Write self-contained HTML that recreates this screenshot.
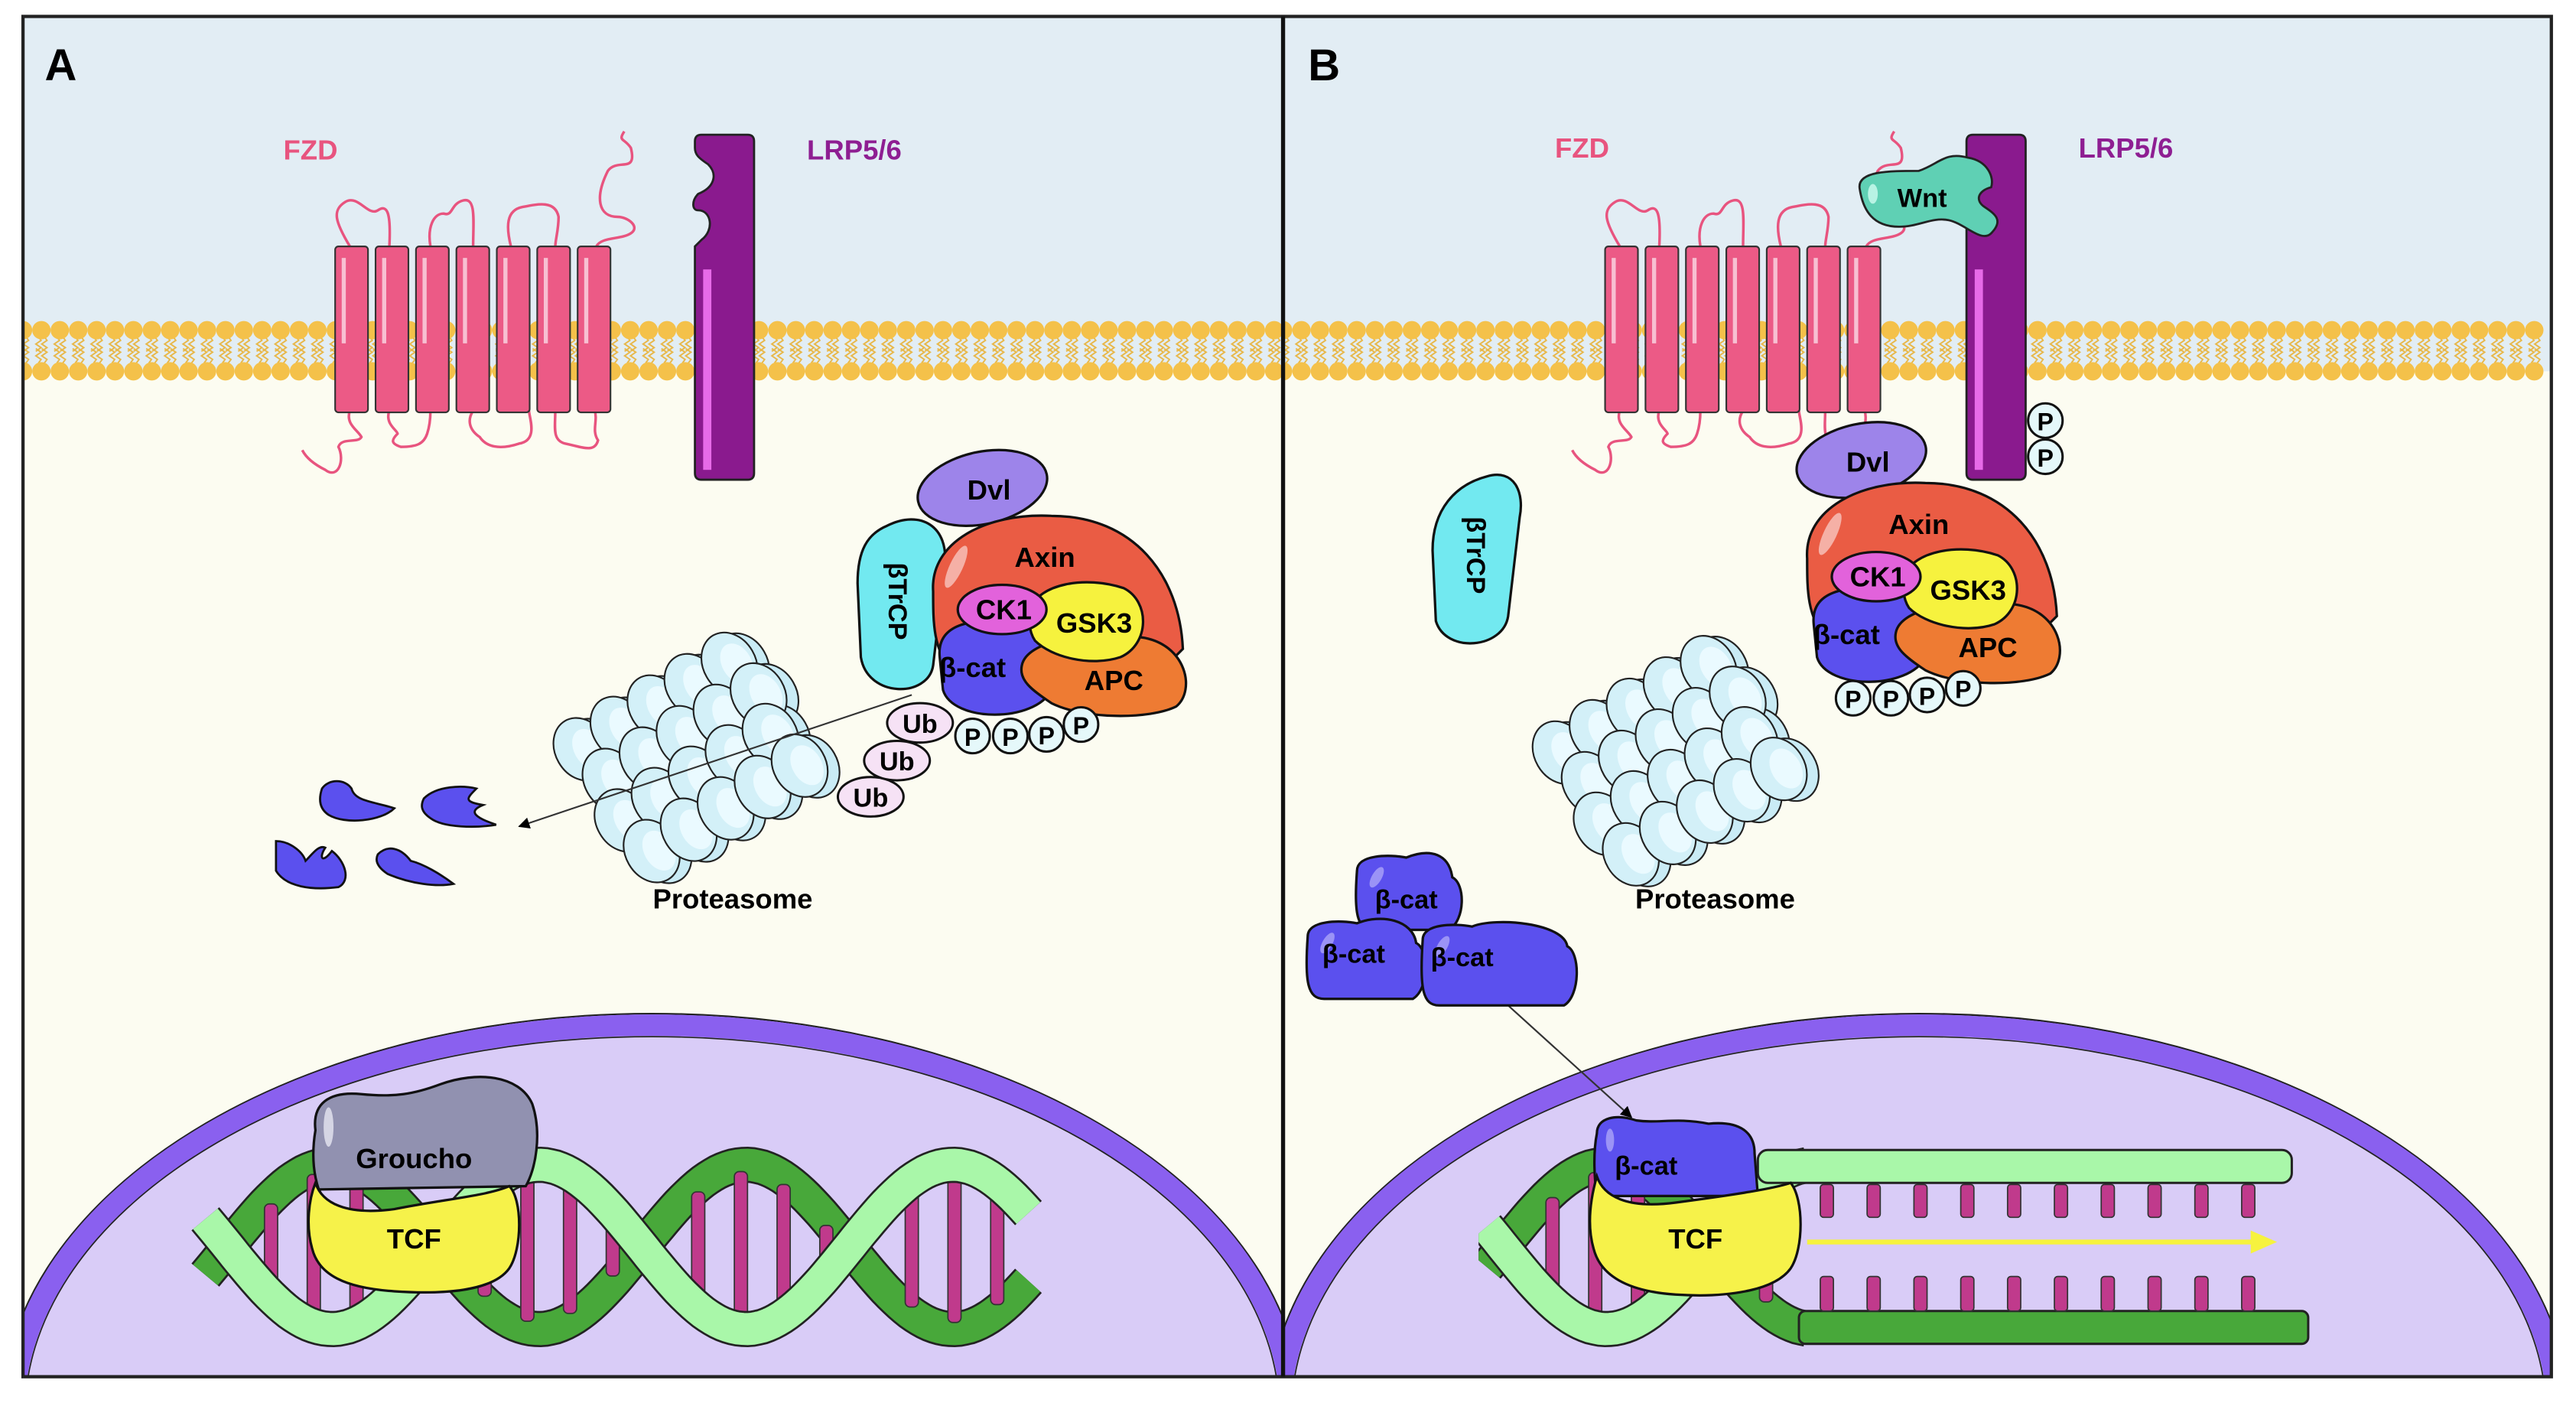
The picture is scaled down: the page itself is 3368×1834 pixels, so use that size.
<!DOCTYPE html>
<html><head><meta charset="utf-8">
<style>
html,body{margin:0;padding:0;background:#fff;overflow:hidden;width:3368px;height:1834px;}
svg{display:block;}
text{font-family:"Liberation Sans",sans-serif;font-weight:bold;}
</style></head>
<body>
<svg id="s" width="3368" height="1834" viewBox="0 0 1568 854" preserveAspectRatio="none" xmlns="http://www.w3.org/2000/svg">
<defs>
<clipPath id="cA"><rect x="14" y="10" width="767" height="828"/></clipPath>
<clipPath id="cB"><rect x="781" y="10" width="772" height="828"/></clipPath>
<clipPath id="hB"><rect x="900" y="600" width="200" height="250"/></clipPath>
<marker id="ar" viewBox="0 0 10 10" refX="9" refY="5" markerWidth="7" markerHeight="7" orient="auto"><path d="M0,0L10,5L0,10z" fill="#000"/></marker>
</defs>
<rect x="0" y="0" width="1568" height="854" fill="#fff"/>
<g id="bg"></g>
<g id="main"></g>
<rect x="14" y="10" width="1539" height="828" fill="none" stroke="#222" stroke-width="2"/>
<line x1="781" y1="10" x2="781" y2="838" stroke="#111" stroke-width="2.5"/>
</svg>
<script>
const NS="http://www.w3.org/2000/svg";
const bg=document.getElementById('bg'), M=document.getElementById('main');
function el(tag,attrs,parent,txt){const e=document.createElementNS(NS,tag);for(const k in attrs)e.setAttribute(k,attrs[k]);if(txt!==undefined)e.textContent=txt;(parent||M).appendChild(e);return e;}
function T(x,y,s,t,fill,extra){const a={x:x,y:y,'font-size':s,fill:fill||'#000','text-anchor':'middle'};if(extra)Object.assign(a,extra);return el('text',a,null,t);}

[[14,'cA',397],[781,'cB',1168]].forEach(([x0,clip,ncx],pi)=>{
  const g=el('g',{'clip-path':'url(#'+clip+')'},bg);
  const w=pi?772:767;
  el('rect',{x:x0,y:10,width:w,height:200,fill:'#e2edf4'},g);
  el('rect',{x:x0,y:210,width:w,height:628,fill:'#fcfcf1'},g);
  el('rect',{x:x0,y:200,width:w,height:26,fill:'#e2edf4'},g);
  let d='';
  for(let x=x0;x<x0+w;x+=11.2){
    for(const [ys,dir] of [[205,1],[221,-1]]){
      for(const off of [-1.8,1.8]){
        let px=x+off, y=ys;
        d+=`M${px},${y}`;
        for(let k=1;k<=4;k++){d+=`L${px+(k%2?1.6:-1.6)},${y+dir*k*2.2}`;}
      }
    }
  }
  el('path',{d:d,stroke:'#e8b84a',fill:'none','stroke-width':0.9},g);
  for(let x=x0;x<x0+w;x+=11.2){
    el('circle',{cx:x,cy:201,r:5.6,fill:'#f4c14a'},g);
    el('circle',{cx:x,cy:226,r:5.6,fill:'#f4c14a'},g);
  }
  el('ellipse',{cx:ncx,cy:862,rx:396,ry:245,fill:'#d9ccf7',stroke:'#222','stroke-width':1},g);
  el('ellipse',{cx:ncx,cy:862,rx:389,ry:238,fill:'none',stroke:'#8a60ef','stroke-width':13},g);
  el('ellipse',{cx:ncx,cy:862,rx:382,ry:231,fill:'none',stroke:'#222','stroke-width':0.8},g);
});

T(37,49,27,'A');T(806,49,27,'B');
T(189,97,17,'FZD','#e8547f');T(520,97,17,'LRP5/6','#8e1e92');
T(963,96,17,'FZD','#e8547f');T(1294,96,17,'LRP5/6','#8e1e92');

function fzd(x0){
  const top=`M${x0+9},150 C${x0},135 ${x0-2},128 ${x0+6},123 C${x0+14},118 ${x0+20},132 ${x0+26},128 C${x0+32},124 ${x0+34},130 ${x0+33},150
   M${x0+58},150 C${x0+56},138 ${x0+60},130 ${x0+66},130 C${x0+72},132 ${x0+70},124 ${x0+78},122 C${x0+86},120 ${x0+84},135 ${x0+84},150
   M${x0+107},150 C${x0+104},138 ${x0+104},128 ${x0+114},126 C${x0+124},124 ${x0+134},122 ${x0+136},132 C${x0+136},140 ${x0+134},146 ${x0+134},150
   M${x0+159},150 C${x0+162},144 ${x0+174},146 ${x0+180},142 C${x0+186},138 ${x0+178},132 ${x0+172},132 C${x0+160},132 ${x0+158},120 ${x0+166},104 C${x0+172},96 ${x0+184},106 ${x0+180},90 C${x0+176},84 ${x0+172},86 ${x0+176},80`;
  el('path',{d:top,fill:'none',stroke:'#e8547f','stroke-width':1.6});
  const bot=`M${x0+9},250 C${x0+6},258 ${x0+14},262 ${x0+16},266 C${x0+14},270 ${x0+4},266 ${x0+2},272 C${x0+6},280 ${x0+2},292 ${x0-6},286 C${x0-14},282 ${x0-18},278 ${x0-20},274
   M${x0+33},250 C${x0+30},258 ${x0+38},262 ${x0+38},264 C${x0+34},268 ${x0+34},270 ${x0+40},272 C${x0+50},272 ${x0+54},270 ${x0+56},264 C${x0+58},258 ${x0+58},252 ${x0+58},250
   M${x0+84},250 C${x0+80},256 ${x0+82},262 ${x0+88},266 C${x0+92},272 ${x0+100},274 ${x0+112},270 C${x0+124},268 ${x0+118},254 ${x0+118},250
   M${x0+134},250 C${x0+134},260 ${x0+132},268 ${x0+140},270 C${x0+150},272 ${x0+158},276 ${x0+160},268 C${x0+156},262 ${x0+160},256 ${x0+158},250`;
  el('path',{d:bot,fill:'none',stroke:'#e8547f','stroke-width':1.6});
  for(let i=0;i<7;i++){
    const x=x0+i*24.6;
    el('rect',{x:x,y:150,width:20,height:101,rx:2,fill:'#ec5a86',stroke:'#333','stroke-width':1});
    el('rect',{x:x+4,y:157,width:2.5,height:52,fill:'#f7c0d2'});
  }
}
fzd(204);fzd(977);

function lrp(x,notch){
  const d=notch?`M${x},86 Q${x},82 ${x+4},82 L${x+32},82 Q${x+36},82 ${x+36},86 L${x+36},288 Q${x+36},292 ${x+32},292 L${x+4},292 Q${x},292 ${x},288 L${x},150 L${x+4},146 C${x+12},140 ${x+10},128 ${x+2},128 C${x-2},128 ${x-2},122 ${x+2},118 C${x+12},114 ${x+14},106 ${x+8},100 C${x+2},96 ${x},94 ${x},90 Z`
  :`M${x},86 Q${x},82 ${x+4},82 L${x+32},82 Q${x+36},82 ${x+36},86 L${x+36},288 Q${x+36},292 ${x+32},292 L${x+4},292 Q${x},292 ${x},288 Z`;
  el('path',{d:d,fill:'#8a1a8e',stroke:'#222','stroke-width':1.3});
  el('rect',{x:x+5,y:164,width:5,height:122,fill:'#e76be8'});
}
lrp(423,true);lrp(1197,false);

el('path',{d:'M1132,115 C1130,104 1150,104 1168,104 C1180,100 1184,92 1198,96 C1210,98 1214,108 1212,114 C1204,116 1202,122 1208,126 C1214,130 1220,134 1212,142 C1206,148 1196,136 1186,134 C1176,132 1168,138 1156,138 C1140,138 1134,128 1132,115Z',fill:'#5fd0b4',stroke:'#222','stroke-width':1.3});
el('ellipse',{cx:1140,cy:118,rx:3,ry:6,fill:'#b8f3e4'});
T(1170,126,16,'Wnt');

function P(x,y){el('circle',{cx:x,cy:y,r:10.5,fill:'#e5f8fa',stroke:'#111','stroke-width':1.4});T(x,y+6,15,'P');}

function complex(ox,oy,trcp,dvlx,dvly){
  if(trcp){
    el('path',{d:`M${ox+540},${oy+320} C${ox+560},${oy+310} ${ox+578},${oy+320} ${ox+575},${oy+345} L${ox+568},${oy+405} C${ox+565},${oy+425} ${ox+528},${oy+425} ${ox+524},${oy+400} L${ox+522},${oy+355} C${ox+522},${oy+335} ${ox+528},${oy+325} ${ox+540},${oy+320}Z`,fill:'#72e9f0',stroke:'#111','stroke-width':1.5});
    T(0,0,16,'βTrCP','#000',{transform:`translate(${ox+541},${oy+366}) rotate(90)`});
  }
  el('ellipse',{cx:dvlx,cy:dvly,rx:40,ry:22,fill:'#9d84ea',stroke:'#111','stroke-width':1.5,transform:`rotate(-12 ${dvlx} ${dvly})`});
  T(dvlx+4,dvly+7,17,'Dvl');
  el('path',{d:`M${ox+568},${oy+360} C${ox+566},${oy+330} ${ox+600},${oy+312} ${ox+640},${oy+314} C${ox+690},${oy+314} ${ox+718},${oy+350} ${ox+720},${oy+395} L${ox+700},${oy+415} L${ox+580},${oy+410} C${ox+568},${oy+395} ${ox+568},${oy+380} ${ox+568},${oy+360}Z`,fill:'#ea5c44',stroke:'#111','stroke-width':1.5});
  el('ellipse',{cx:ox+582,cy:oy+345,rx:4,ry:14,fill:'#f5b0a6',transform:`rotate(25 ${ox+582} ${oy+345})`});
  T(ox+636,oy+345,17,'Axin');
  el('path',{d:`M${ox+572},${oy+400} C${ox+570},${oy+380} ${ox+590},${oy+376} ${ox+620},${oy+378} C${ox+640},${oy+380} ${ox+650},${oy+395} ${ox+640},${oy+420} C${ox+630},${oy+440} ${ox+580},${oy+440} ${ox+574},${oy+420}Z`,fill:'#5b50ee',stroke:'#111','stroke-width':1.5});
  T(ox+592,oy+412,17,'β-cat');
  el('path',{d:`M${ox+622},${oy+405} C${ox+625},${oy+390} ${ox+660},${oy+384} ${ox+695},${oy+388} C${ox+722},${oy+392} ${ox+728},${oy+420} ${ox+716},${oy+430} C${ox+700},${oy+438} ${ox+660},${oy+438} ${ox+640},${oy+428} C${ox+628},${oy+420} ${ox+620},${oy+414} ${ox+622},${oy+405}Z`,fill:'#ee7b33',stroke:'#111','stroke-width':1.5});
  T(ox+678,oy+420,17,'APC');
  el('path',{d:`M${ox+628},${oy+370} C${ox+632},${oy+356} ${ox+660},${oy+350} ${ox+684},${oy+358} C${ox+700},${oy+366} ${ox+700},${oy+392} ${ox+682},${oy+400} C${ox+664},${oy+406} ${ox+640},${oy+400} ${ox+630},${oy+390} C${ox+626},${oy+384} ${ox+626},${oy+376} ${ox+628},${oy+370}Z`,fill:'#f6f23e',stroke:'#111','stroke-width':1.5});
  T(ox+666,oy+385,17,'GSK3');
  el('ellipse',{cx:ox+610,cy:oy+371,rx:27,ry:15,fill:'#e262db',stroke:'#111','stroke-width':1.5});
  T(ox+611,oy+377,17,'CK1');
}
complex(0,0,true,598,297);
[[592,448],[615,448],[637,447],[658,441]].forEach(p=>P(p[0],p[1]));
complex(532,-20,false,1133,280);
[[1128,425],[1151,425],[1173,423],[1195,419]].forEach(p=>P(p[0],p[1]));
P(1245,256);P(1245,278);

el('path',{d:'M905,290 C922,285 928,300 925,315 L918,375 C915,395 880,398 874,378 L872,335 C872,310 886,295 905,290Z',fill:'#72e9f0',stroke:'#111','stroke-width':1.5});
T(0,0,16,'βTrCP','#000',{transform:'translate(893,338) rotate(90)'});

[[530,485],[546,463],[560,440]].forEach(p=>{el('ellipse',{cx:p[0],cy:p[1],rx:20,ry:12,fill:'#f6e2f5',stroke:'#111','stroke-width':1.4});T(p[0],p[1]+6,16,'Ub');});

function prot(cx,cy){
  const g=el('g',{transform:`translate(${cx},${cy}) rotate(-30)`});
  const pos=[];
  for(let r=0;r<4;r++)for(let c=0;c<5;c++)pos.push([c*26-52+ (r%2)*6, r*25-38]);
  pos.forEach(p=>{el('ellipse',{cx:p[0]+6,cy:p[1]+4,rx:16,ry:20,fill:'#c9ebf5',stroke:'#222','stroke-width':1},g);});
  pos.forEach(p=>{
    el('ellipse',{cx:p[0],cy:p[1],rx:16,ry:20,fill:'#d3f0f8',stroke:'#222','stroke-width':1},g);
    el('ellipse',{cx:p[0]+4,cy:p[1]+2,rx:9,ry:13,fill:'#eafaff'},g);
  });
}
prot(418,463);prot(1014,465);
T(446,553,17,'Proteasome');T(1044,553,17,'Proteasome');

el('line',{x1:555,y1:423,x2:316,y2:503,stroke:'#333','stroke-width':1,'marker-end':'url(#ar)'});
el('line',{x1:918,y1:612,x2:993,y2:680,stroke:'#333','stroke-width':1,'marker-end':'url(#ar)'});

const fr=['M196,480 C200,474 210,474 214,480 C216,488 228,488 240,492 C232,500 210,502 200,496 C194,492 194,486 196,480Z',
'M258,486 C266,478 282,478 290,480 C284,486 282,488 294,490 C284,494 290,498 302,502 C290,504 270,504 262,498 C256,494 256,490 258,486Z',
'M168,512 C176,512 184,518 186,524 C190,520 194,514 198,516 C194,522 196,526 202,518 C210,524 214,536 206,540 C190,542 174,540 168,530Z',
'M230,520 C236,514 244,516 250,524 C258,526 268,532 276,538 C266,540 250,538 236,532 C230,528 228,524 230,520Z'];
fr.forEach(d=>el('path',{d:d,fill:'#5b50ee',stroke:'#111','stroke-width':1.3}));

function bcat(x,y,w,h){
  el('path',{d:`M${x},${y+10} C${x},${y} ${x+20},${y} ${x+30},${y+2} C${x+45},${y-4} ${x+w-10},${y} ${x+w-8},${y+14} C${x+w},${y+18} ${x+w},${y+h-6} ${x+w-10},${y+h} L${x+10},${y+h} C${x},${y+h} ${x-2},${y+h-10} ${x},${y+10}Z`,fill:'#5b50ee',stroke:'#111','stroke-width':1.5});
  el('ellipse',{cx:x+12,cy:y+14,rx:3,ry:7,fill:'#9b93f6',transform:`rotate(30 ${x+12} ${y+14})`});
}
bcat(826,520,66,46);T(856,553,16,'β-cat');
bcat(796,560,74,48);T(824,586,16,'β-cat');
bcat(866,562,96,50);T(890,588,16,'β-cat');

function helix(x0,x1,xc,gclip){
  const g=el('g',gclip?{'clip-path':gclip}:{});
  const A=50,c=759,P=252;
  const f=(x,s)=>c - s*A*Math.cos(2*Math.PI*(x-xc)/P);
  const path=(s)=>{let d='';for(let x=x0;x<=x1;x+=3){d+=(x===x0?'M':'L')+x+','+f(x,s).toFixed(1);}return d;};
  el('path',{d:path(-1),fill:'none',stroke:'#222','stroke-width':22},g);
  el('path',{d:path(-1),fill:'none',stroke:'#48a83a','stroke-width':19.5},g);
  for(let x=x0+14;x<x1-6;x+=26){
    const a=f(x,1),b=f(x,-1);const lo=Math.min(a,b),hi=Math.max(a,b);
    if(hi-lo>30) el('rect',{x:x-4,y:lo+4,width:8,height:hi-lo-8,rx:3,fill:'#c03a8c',stroke:'#333','stroke-width':0.8},g);
  }
  el('path',{d:path(1),fill:'none',stroke:'#222','stroke-width':22},g);
  el('path',{d:path(1),fill:'none',stroke:'#a9f7a9','stroke-width':19.5},g);
}
helix(125,628,328);
helix(905,1100,1104,'url(#hB)');
el('rect',{x:1070,y:700,width:325,height:20,rx:6,fill:'#a9f7a9',stroke:'#222','stroke-width':1.4});
el('rect',{x:1095,y:798,width:310,height:20,rx:4,fill:'#48a83a',stroke:'#222','stroke-width':1.4});
for(let x=1112;x<=1372;x+=28.5){
  el('rect',{x:x-4,y:721,width:8,height:20,rx:2,fill:'#c03a8c',stroke:'#333','stroke-width':0.8});
  el('rect',{x:x-4,y:777,width:8,height:21,rx:2,fill:'#c03a8c',stroke:'#333','stroke-width':0.8});
}
el('line',{x1:1100,y1:756,x2:1372,y2:756,stroke:'#f6f23e','stroke-width':3});
el('path',{d:'M1370,749 L1386,756 L1370,763Z',fill:'#f6f23e'});

el('path',{d:'M192,688 C190,672 200,664 220,666 C240,668 252,666 268,660 C290,652 316,654 324,672 C330,690 326,712 320,722 L194,724 C190,712 190,700 192,688Z',fill:'#9191b0',stroke:'#111','stroke-width':1.5});
el('ellipse',{cx:200,cy:686,rx:3,ry:12,fill:'#d5d5e4'});
el('path',{d:'M192,720 C196,732 210,740 240,736 C270,730 296,728 310,722 C318,730 318,760 310,772 C300,786 270,788 240,786 C210,784 194,776 190,760 C186,746 188,730 192,720Z',fill:'#f6f24a',stroke:'#111','stroke-width':1.5});
T(252,711,17,'Groucho');T(252,760,17,'TCF');
el('path',{d:'M972,690 C972,680 984,678 996,682 C1010,684 1020,680 1040,684 C1060,682 1068,690 1068,702 L1070,728 L972,728 C970,714 970,700 972,690Z',fill:'#5b50ee',stroke:'#111','stroke-width':1.5});
el('ellipse',{cx:980,cy:694,rx:2.5,ry:7,fill:'#9b93f6'});
T(1002,715,16,'β-cat');
el('path',{d:'M972,716 C976,728 990,736 1020,732 C1050,728 1078,724 1090,720 C1098,730 1098,760 1090,772 C1080,786 1050,790 1020,788 C990,786 974,776 970,760 C966,746 968,730 972,716Z',fill:'#f6f24a',stroke:'#111','stroke-width':1.5});
T(1032,760,17,'TCF');
</script>
</body></html>
